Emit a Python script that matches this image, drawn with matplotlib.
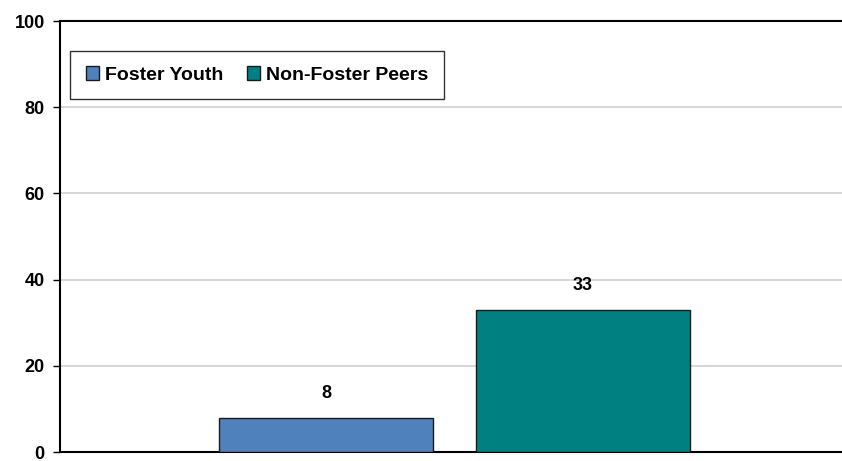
import matplotlib.pyplot as plt

plt.rcParams['font.family'] = ['Liberation Sans', 'DejaVu Sans']

# groups and their percentages
groups = ['Foster Youth', 'Non-Foster Peers']
values = [8, 33]
colors = ['#4f81bd', '#008080']
y_ticks = [0, 20, 40, 60, 80, 100]

fig = plt.figure(figsize=(8.42, 4.61), dpi=100)
ax = fig.add_axes([60 / 842, 9 / 461, 782 / 842, 431 / 461])

positions = [0, 1]
width = 214 / 257
for pos, val, col, name in zip(positions, values, colors, groups):
    ax.bar(pos, val, width=width, color=col, edgecolor='#1a1a1a',
           linewidth=1.0, label=name, zorder=3)
    ax.text(pos, val + 3.6, f'{val}', ha='center', va='bottom',
            fontsize=13, fontweight='bold')

ax.set_xlim(-1.035, 2.008)
ax.set_ylim(0, 100)
ax.set_yticks(y_ticks)
ax.set_yticklabels([str(t) for t in y_ticks], fontsize=13, fontweight='bold')
ax.set_xticks([])
ax.tick_params(axis='y', direction='out', length=5, width=1, pad=6)

ax.yaxis.grid(True, color='#d0d0d0', linewidth=1.2, zorder=0)
ax.set_axisbelow(True)
for side in ['left', 'bottom', 'top']:
    ax.spines[side].set_color('black')
    ax.spines[side].set_linewidth(1.5)
ax.spines['right'].set_visible(False)

leg = ax.legend(loc='upper left', bbox_to_anchor=(0.0128, 0.931),
                borderaxespad=0, ncol=2,
                prop={'weight': 'bold', 'size': 14},
                frameon=True, fancybox=False, edgecolor='black',
                handlelength=0.7, handleheight=0.7, handletextpad=0.3,
                columnspacing=1.2, borderpad=0.8)
leg.get_frame().set_linewidth(1.0)

fig.savefig('out.png', dpi=100)
